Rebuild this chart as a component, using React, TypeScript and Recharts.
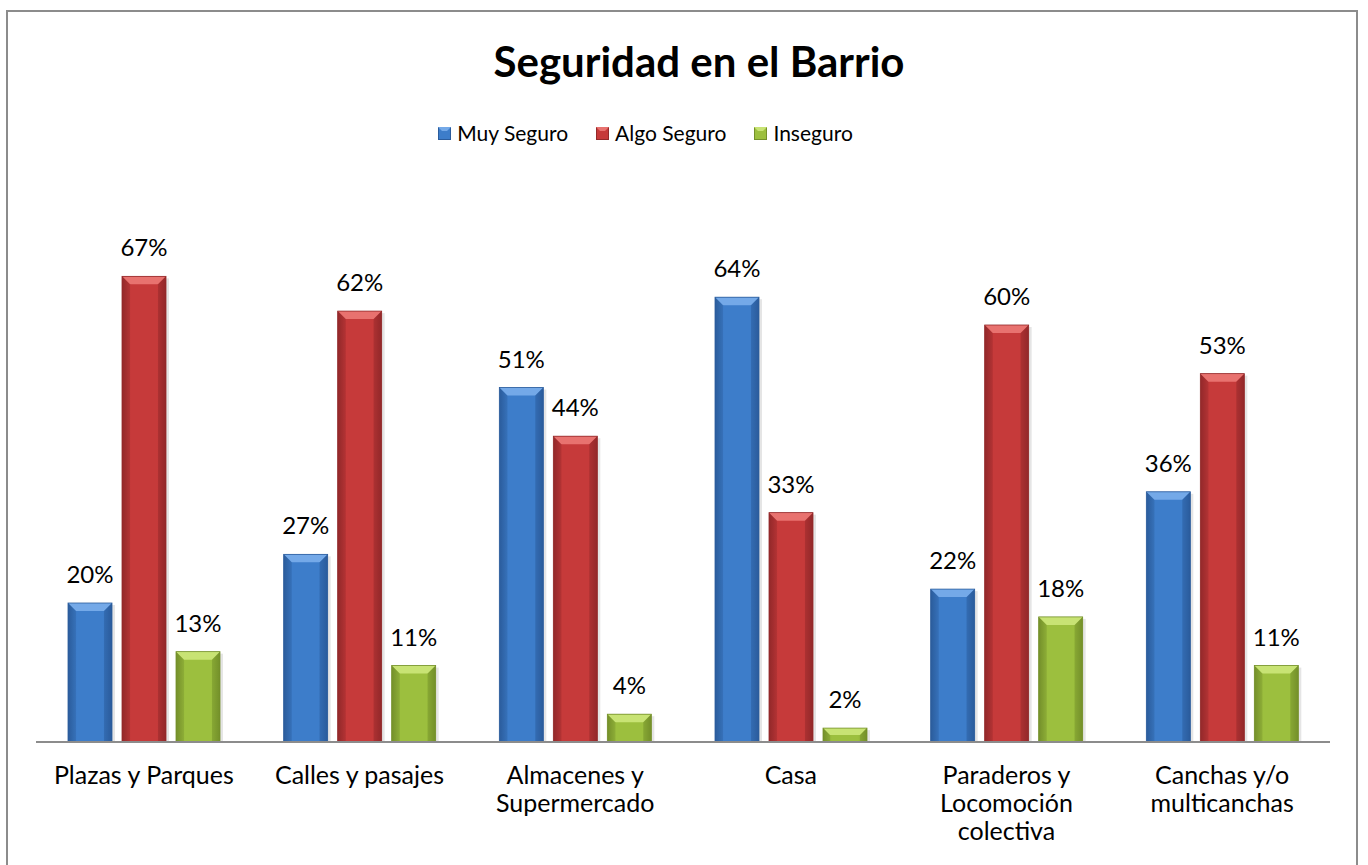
import * as React from "react"
import { Bar, BarChart, LabelList, XAxis, YAxis } from "recharts"

const categories = [
	"Plazas y Parques",
	"Calles y pasajes",
	"Almacenes y Supermercado",
	"Casa",
	"Paraderos y Locomoción colectiva",
	"Canchas y/o multicanchas",
]
const muySeguro = [20, 27, 51, 64, 22, 36]
const algoSeguro = [67, 62, 44, 33, 60, 53]
const inseguro = [13, 11, 4, 2, 18, 11]

const SERIES = [
	{ key: "muy", name: "Muy Seguro", values: muySeguro, base: "#3d7dca", light: "#74a9e8", dark: "#2b5c9c" },
	{ key: "algo", name: "Algo Seguro", values: algoSeguro, base: "#c63a3a", light: "#e8726f", dark: "#93292a" },
	{ key: "inseg", name: "Inseguro", values: inseguro, base: "#9cbf3e", light: "#c8e374", dark: "#74902a" },
]

const data = categories.map((name, i) => ({
	name,
	muy: muySeguro[i],
	algo: algoSeguro[i],
	inseg: inseguro[i],
}))

const FONT = "Lato, 'Open Sans', sans-serif"

const wrap = (label: string, max = 16) => {
	const lines: string[] = []
	let cur = ""
	label.split(" ").forEach((w) => {
		const next = cur ? cur + " " + w : w
		if (next.length > max && cur) {
			lines.push(cur)
			cur = w
		} else cur = next
	})
	if (cur) lines.push(cur)
	return lines
}

// eslint-disable-next-line @typescript-eslint/no-explicit-any
const CategoryTick = (props: any) => {
	const { x, y, payload } = props
	return (
		<g>
			{wrap(payload.value).map((line, i) => (
				<text key={i} x={x} y={y + 34 + i * 28} textAnchor="middle" fill="#000" fontSize={25} fontFamily={FONT}>
					{line}
				</text>
			))}
		</g>
	)
}

const makeShape = (s: (typeof SERIES)[number]) => {
	// eslint-disable-next-line @typescript-eslint/no-explicit-any
	return (props: any) => {
		const { x, y, width, height } = props
		if (!height || height <= 0) return <g />
		const b = Math.min(8, height / 2)
		return (
			<g>
				<rect x={x + 3} y={y + 2} width={width} height={height - 2} fill="#000" opacity={0.1} />
				<rect x={x} y={y} width={width} height={height} fill={`url(#grad-${s.key})`} />
				<polygon
					points={`${x},${y} ${x + width},${y} ${x + width - b},${y + b} ${x + b},${y + b}`}
					fill={s.light}
				/>
				<polygon
					points={`${x},${y} ${x + b},${y + b} ${x + b},${y + height} ${x},${y + height}`}
					fill={s.dark}
					opacity={0.3}
				/>
				<polygon
					points={`${x + width},${y} ${x + width - b},${y + b} ${x + width - b},${y + height} ${x + width},${y + height}`}
					fill={s.dark}
					opacity={0.45}
				/>
				<rect x={x} y={y} width={width} height={height} fill="none" stroke={s.dark} strokeWidth={0.8} />
			</g>
		)
	}
}

const LegendBox = () => (
	<div
		style={{
			position: "absolute",
			left: 0,
			width: 1291,
			top: 122,
			display: "flex",
			justifyContent: "center",
			gap: 28,
			fontFamily: FONT,
			fontSize: 21,
			lineHeight: "21px",
			color: "#000",
		}}>
		{SERIES.map((s) => (
			<div key={s.key} style={{ display: "flex", alignItems: "center", gap: 6 }}>
				<svg width={13} height={13} style={{ marginTop: 2 }}>
					<rect x={0.5} y={0.5} width={12} height={12} fill={s.base} stroke={s.dark} />
					<polygon points="0,0 13,0 9,4 4,4" fill={s.light} />
				</svg>
				<span>{s.name}</span>
			</div>
		))}
	</div>
)

export default function App() {
	return (
		<div style={{ position: "absolute", left: 0, top: 0, width: 1368, height: 865, overflow: "hidden", background: "#fff" }}>
			<style>{`body{margin:0}`}</style>
			<div
				style={{
					position: "absolute",
					left: 6,
					top: 10,
					width: 1352,
					height: 900,
					border: "2px solid #8c8c8c",
					boxSizing: "border-box",
				}}
			/>
			<svg width={1368} height={100} style={{ position: "absolute", left: 0, top: 0 }}>
				<text x={699} y={77} textAnchor="middle" fontFamily={FONT} fontWeight={700} fontSize={42} fill="#000">
					Seguridad en el Barrio
				</text>
			</svg>
			<LegendBox />
			<div style={{ position: "absolute", left: 0, top: 0 }}>
				<BarChart
					width={1368}
					height={865}
					data={data}
					margin={{ top: 186, right: 38, bottom: 93, left: 36 }}
					barGap={10}
					barSize={44}>
					<defs>
						{SERIES.map((s) => (
							<linearGradient key={s.key} id={`grad-${s.key}`} x1="0" y1="0" x2="1" y2="0">
								<stop offset="0%" stopColor={s.dark} />
								<stop offset="20%" stopColor={s.base} />
								<stop offset="80%" stopColor={s.base} />
								<stop offset="100%" stopColor={s.dark} />
							</linearGradient>
						))}
					</defs>
					<XAxis
						dataKey="name"
						height={30}
						axisLine={{ stroke: "#8c8c8c", strokeWidth: 2 }}
						tickLine={false}
						tick={<CategoryTick />}
						interval={0}
					/>
					<YAxis hide domain={[0, 80]} />
					{SERIES.map((s) => (
						<Bar key={s.key} dataKey={s.key} name={s.name} fill={s.base} shape={makeShape(s)} isAnimationActive={false}>
							<LabelList
								dataKey={s.key}
								position="top"
								offset={20}
								formatter={(v: number) => `${v}%`}
								fill="#000"
								fontSize={24}
								fontFamily={FONT}
							/>
						</Bar>
					))}
				</BarChart>
			</div>
		</div>
	)
}
